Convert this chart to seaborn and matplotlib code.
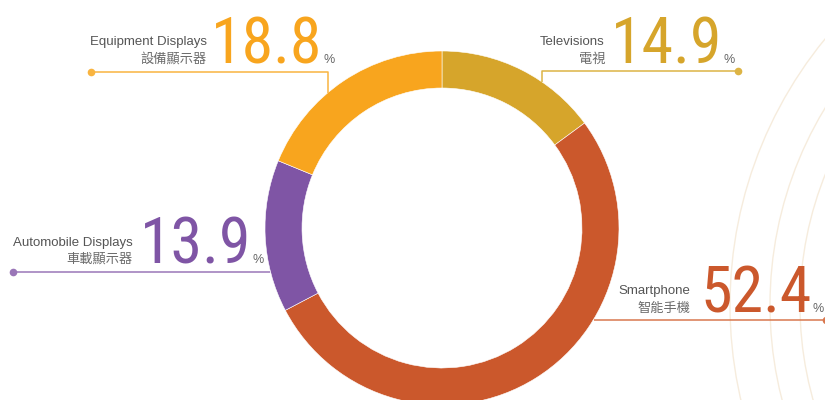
import matplotlib
matplotlib.use("Agg")
import matplotlib.pyplot as plt
from matplotlib import font_manager as fm
from matplotlib.patches import Circle
import seaborn as sns
import numpy as np

# Shipment share by application (%), ring drawn clockwise from 12 o'clock
names_en = ["Televisions", "Smartphone", "Automobile Displays", "Equipment Displays"]
names_zh = ["電視", "智能手機", "車載顯示器", "設備顯示器"]
shares = [14.9, 52.4, 13.9, 18.8]
colors = ["#D6A52B", "#CB582C", "#7F55A5", "#F8A51E"]
line_colors = ["#DDB445", "#D9784F", "#9A76B8", "#F9B440"]

sns.set_theme(style="white")
plt.rcParams["font.family"] = ["Liberation Sans", "Noto Sans CJK TC", "DejaVu Sans"]

W, H = 825, 400
fig = plt.figure(figsize=(W / 100, H / 100), dpi=100)
ax = fig.add_axes([0, 0, 1, 1])


def Y(y):
    """Convert a top-down pixel row to the axes' bottom-up coordinate."""
    return H - y


CX, CY = 442, 228
R_OUT, R_IN = 177, 140

# faint ripple arcs in the background
for r in (420, 380, 350):
    ax.add_patch(Circle((1150, Y(305)), r, fill=False, ec="#F6ECDD", lw=1.0, zorder=0))

ax.pie(
    shares,
    colors=colors,
    startangle=90,
    counterclock=False,
    radius=R_OUT,
    center=(CX, Y(CY)),
    wedgeprops=dict(width=R_OUT - R_IN, edgecolor="white", linewidth=0.4),
)
ax.set_xlim(0, W)
ax.set_ylim(0, H)
ax.set_aspect("equal")
ax.axis("off")


def ring_y(x):
    return CY - np.sqrt(R_OUT ** 2 - (x - CX) ** 2)


def ring_x(y, side):
    return CX + side * np.sqrt(R_OUT ** 2 - (y - CY) ** 2)


# label layout: text right edge, number left edge, baselines, leader path
layout = [
    dict(tx=605, en_y=45, zh_y=63, nx=611, ny=63,
         path=[(738, 70.5), (541.7, 70.5), (541.7, None)]),
    dict(tx=690, en_y=294, zh_y=312, nx=700, ny=312.5,
         path=[(826, 319.5), (None, 319.5)], side=1),
    dict(tx=133, en_y=246, zh_y=263, nx=140, ny=263,
         path=[(13, 271.5), (None, 271.5)], side=-1),
    dict(tx=207, en_y=45, zh_y=63, nx=211, ny=63,
         path=[(90.7, 71.5), (328, 71.5), (328, None)]),
]

big = fm.FontProperties(family=["Roboto Condensed", "Liberation Sans"], weight="normal", size=46)
fig.canvas.draw()
renderer = fig.canvas.get_renderer()

for en, zh, val, col, lcol, lay in zip(names_en, names_zh, shares, colors, line_colors, layout):
    ax.text(lay["tx"], Y(lay["en_y"]), en, ha="right", va="baseline",
            fontsize=9.5, color="#555555")
    ax.text(lay["tx"], Y(lay["zh_y"]), zh, ha="right", va="baseline",
            fontsize=9.5, color="#6b6b6b",
            family=["Noto Sans CJK TC", "DejaVu Sans"])
    num = ax.text(lay["nx"], Y(lay["ny"]), f"{val:.1f}", ha="left", va="baseline",
                  fontproperties=big, color=col)
    bb = num.get_window_extent(renderer=renderer)
    x_pct = ax.transData.inverted().transform((bb.x1, 0))[0] + 1
    ax.text(x_pct, Y(lay["ny"]), "%", ha="left", va="baseline",
            fontsize=9, color="#666666")

    pts = []
    for px, py in lay["path"]:
        if py is None:
            py = ring_y(px)
        if px is None:
            px = ring_x(py, lay["side"])
        pts.append((px, Y(py)))
    xs, ys = zip(*pts)
    ax.plot(xs, ys, color=lcol, lw=1.1, solid_capstyle="butt", zorder=1)
    ax.plot(xs[0], ys[0], "o", color=lcol, ms=5.5, mec="none", zorder=3, clip_on=False)

fig.savefig("out.png", dpi=100, facecolor="white")
